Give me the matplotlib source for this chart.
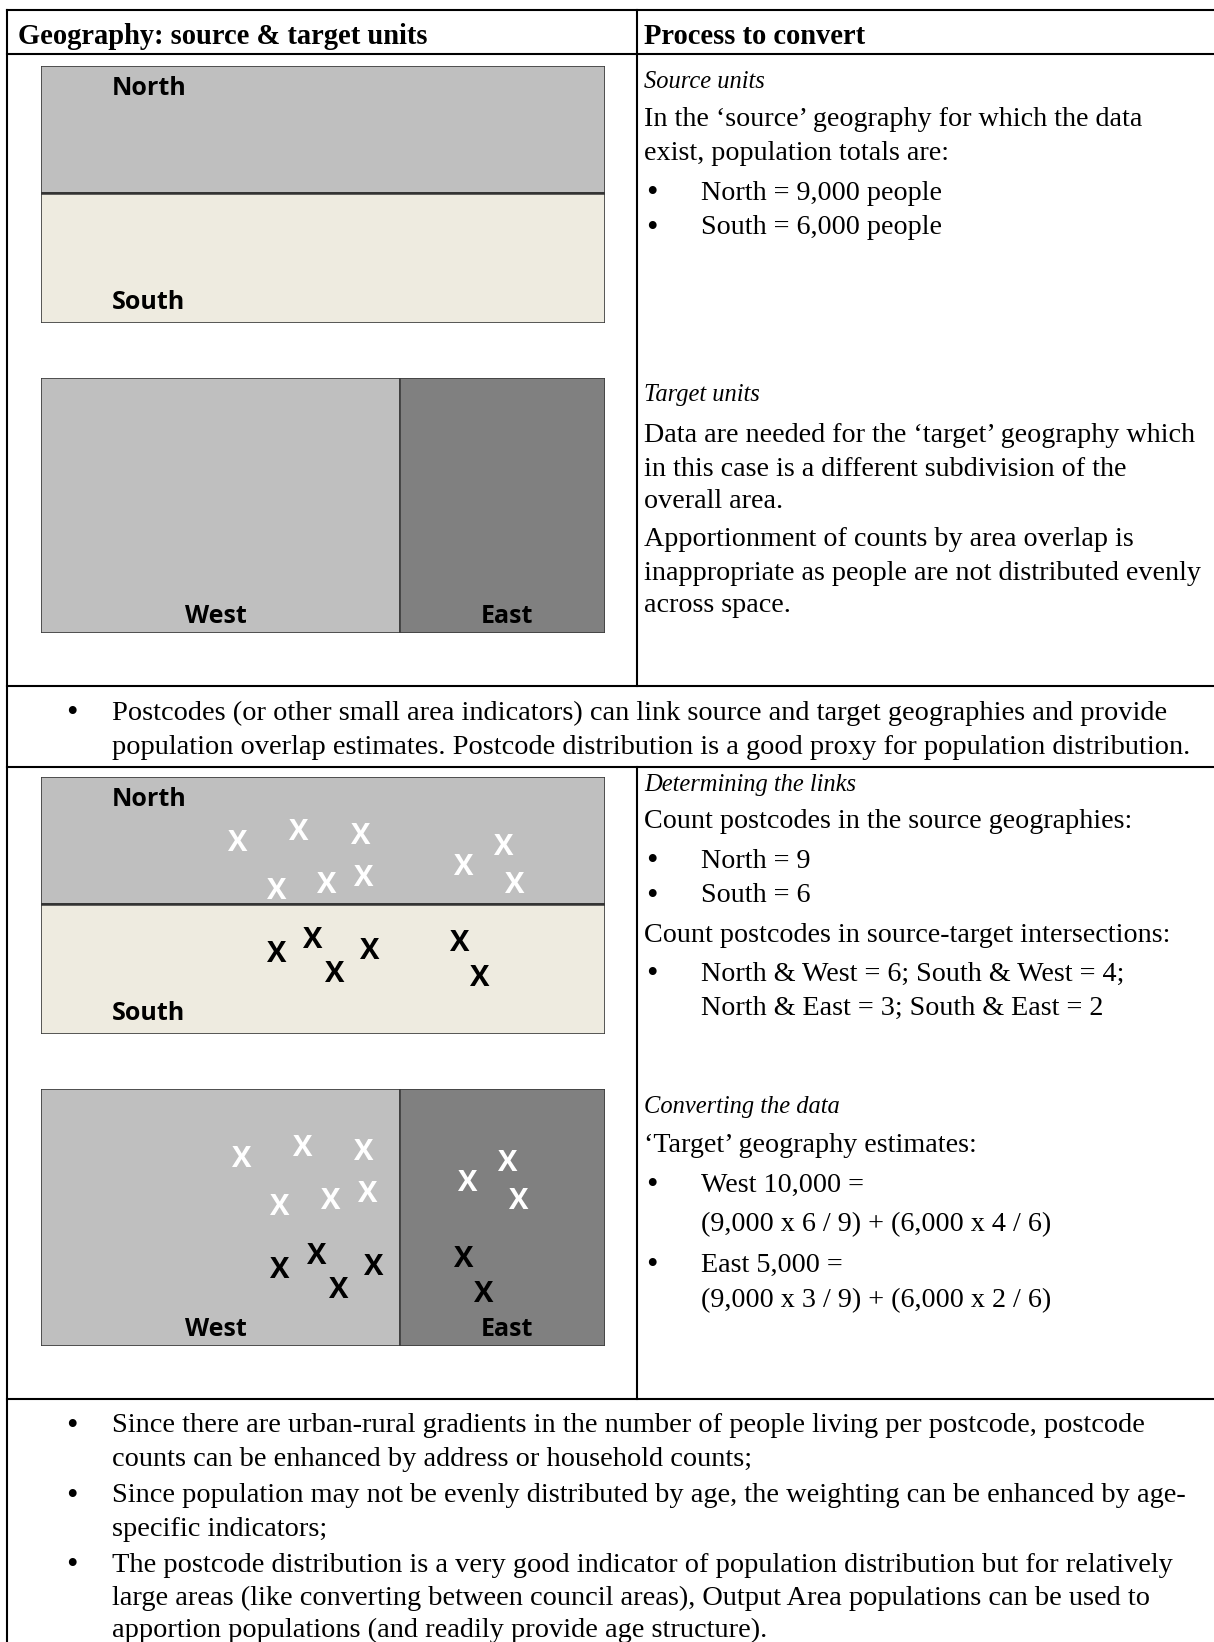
import matplotlib
matplotlib.use("Agg")
import matplotlib.pyplot as plt
from matplotlib.patches import Rectangle

# ---------------- data ----------------
source_units = ["North", "South"]
source_pop = [9000, 6000]
target_units = ["West", "East"]
north_south_boundary = 0.494   # fraction of map height (from top)
west_east_boundary = 0.637     # fraction of map width (from left)

# postcode locations (fraction of map width / height from top)
north_pc_x = [0.349, 0.457, 0.566, 0.417, 0.507, 0.573, 0.750, 0.821, 0.840]
north_pc_y = [0.253, 0.210, 0.226, 0.440, 0.416, 0.389, 0.346, 0.268, 0.416]
south_pc_x = [0.417, 0.482, 0.582, 0.521, 0.743, 0.778]
south_pc_y = [0.685, 0.630, 0.673, 0.763, 0.642, 0.778]

header_labels = ["Geography: source & target units", "Process to convert"]

# ---------------- derived counts ----------------
n_north = len(north_pc_x)
n_south = len(south_pc_x)
nw = sum(1 for x in north_pc_x if x < west_east_boundary)
ne = n_north - nw
sw = sum(1 for x in south_pc_x if x < west_east_boundary)
se = n_south - sw
west_est = source_pop[0] * nw / n_north + source_pop[1] * sw / n_south
east_est = source_pop[0] * ne / n_north + source_pop[1] * se / n_south

# ---------------- figure ----------------
W, H = 1214, 1642
fig = plt.figure(figsize=(W / 100, H / 100), dpi=100)
ax = fig.add_axes([0, 0, 1, 1])
ax.set_xlim(0, W)
ax.set_ylim(H, 0)
ax.axis("off")
renderer = fig.canvas.get_renderer()

SERIF = "Liberation Serif"
SANS = "Open Sans"


def fit_size(s, target, **kw):
    t = fig.text(0, 0, s, fontsize=20, **kw)
    w = t.get_window_extent(renderer).width
    t.remove()
    return 20 * target / w


fs_body = fit_size("inappropriate as people are not distributed evenly", 556, family=SERIF)
fs_head = fit_size(header_labels[0], 410, family=SERIF, weight="bold")
fs_ital = fit_size("Determining the links", 213, family=SERIF, style="italic")
fs_wide = fit_size("Postcodes (or other small area indicators) can link source and target "
                   "geographies and provide", 1053, family=SERIF)

# ---------------- table lines ----------------
LW = 1.5
XL, XD, XR = 7, 637, W + 5
YT, YH, Y1, Y2, Y3 = 10, 54, 686, 767, 1399
for y in [YT, YH, Y1, Y2, Y3]:
    ax.plot([XL, XR], [y, y], color="black", lw=LW, solid_capstyle="projecting")
ax.plot([XL, XL], [YT, H + 5], color="black", lw=LW)
ax.plot([XD, XD], [YT, Y1], color="black", lw=LW)
ax.plot([XD, XD], [Y2, Y3], color="black", lw=LW)

# header
ax.text(18, 33, header_labels[0], family=SERIF, weight="bold", fontsize=fs_head,
        va="center_baseline", ha="left")
ax.text(644, 33, header_labels[1], family=SERIF, weight="bold", fontsize=fs_head,
        va="center_baseline", ha="left")


def line(x, y, s, size=None, style="normal"):
    ax.text(x, y, s, family=SERIF, fontsize=size or fs_body, style=style,
            va="center_baseline", ha="left")


def bullet(xb, xt, y, s, size=None):
    ax.text(xb, y, "\u2022", family=SERIF, fontsize=(size or fs_body) * 1.15,
            va="center_baseline", ha="left")
    line(xt, y, s, size)


XT, XB, XI = 644, 646, 701

# row 1 right column
line(XT, 79, "Source units", fs_ital, "italic")
line(XT, 117, "In the \u2018source\u2019 geography for which the data")
line(XT, 150, "exist, population totals are:")
bullet(XB, XI, 190, f"{source_units[0]} = {source_pop[0]:,} people")
bullet(XB, XI, 225, f"{source_units[1]} = {source_pop[1]:,} people")
line(XT, 393, "Target units", fs_ital, "italic")
line(XT, 432, "Data are needed for the \u2018target\u2019 geography which")
line(XT, 466, "in this case is a different subdivision of the")
line(XT, 498, "overall area.")
line(XT, 537, "Apportionment of counts by area overlap is")
line(XT, 570, "inappropriate as people are not distributed evenly")
line(XT, 603, "across space.")

# row 2
bullet(66, 112, 710, "Postcodes (or other small area indicators) can link source and target "
       "geographies and provide", fs_wide)
line(112, 745, "population overlap estimates. Postcode distribution is a good proxy for "
     "population distribution.", fs_wide)

# row 3 right column
line(XT, 783, "Determining the links", fs_ital, "italic")
line(XT, 818, "Count postcodes in the source geographies:")
bullet(XB, XI, 858, f"{source_units[0]} = {n_north}")
bullet(XB, XI, 893, f"{source_units[1]} = {n_south}")
line(XT, 933, "Count postcodes in source-target intersections:")
bullet(XB, XI, 971, f"North & West = {nw}; South & West = {sw};")
line(XI, 1005, f"North & East = {ne}; South & East = {se}")
line(XT, 1104, "Converting the data", fs_ital, "italic")
line(XT, 1143, "\u2018Target\u2019 geography estimates:")
bullet(XB, XI, 1182, f"West {west_est:,.0f} =")
line(XI, 1222, f"({source_pop[0]:,} x {nw} / {n_north}) + ({source_pop[1]:,} x {sw} / {n_south})")
bullet(XB, XI, 1262, f"East {east_est:,.0f} =")
line(XI, 1298, f"({source_pop[0]:,} x {ne} / {n_north}) + ({source_pop[1]:,} x {se} / {n_south})")

# row 4
bottom_lines = [
    (True, "Since there are urban-rural gradients in the number of people living per postcode, postcode"),
    (False, "counts can be enhanced by address or household counts;"),
    (True, "Since population may not be evenly distributed by age, the weighting can be enhanced by age-"),
    (False, "specific indicators;"),
    (True, "The postcode distribution is a very good indicator of population distribution but for relatively"),
    (False, "large areas (like converting between council areas), Output Area populations can be used to"),
    (False, "apportion populations (and readily provide age structure)."),
]
bottom_y = [1423, 1456, 1493, 1526, 1562, 1595, 1627]
for (is_b, s), y in zip(bottom_lines, bottom_y):
    if is_b:
        bullet(66, 112, y, s, fs_wide)
    else:
        line(112, y, s, fs_wide)

# ---------------- maps ----------------
MAP_L, MAP_W = 41, 564
EDGE = "#3c3c3c"
FS_LABEL = 18
FS_X = 21


def map_axes(top, bottom):
    return fig.add_axes([MAP_L / W, 1 - bottom / H, MAP_W / W, (bottom - top) / H])


def source_map(top, bottom, points):
    m = map_axes(top, bottom)
    m.set_xlim(0, 1)
    m.set_ylim(1, 0)
    m.axis("off")
    nb = north_south_boundary
    m.add_patch(Rectangle((0, 0), 1, nb, facecolor="#bfbfbf", edgecolor=EDGE, lw=1.2))
    m.add_patch(Rectangle((0, nb), 1, 1 - nb, facecolor="#eeebe0", edgecolor=EDGE, lw=1.2))
    m.plot([0, 1], [nb, nb], color="#333333", lw=1.8)
    m.text(0.126, 0.088, source_units[0], family=SANS, weight="bold", fontsize=FS_LABEL,
           va="center", ha="left")
    m.text(0.126, 0.922, source_units[1], family=SANS, weight="bold", fontsize=FS_LABEL,
           va="center", ha="left")
    if points:
        draw_points(m, 0, 0.006)


def draw_points(m, dx, dy):
    for x, y in zip(north_pc_x, north_pc_y):
        m.text(x + dx, y + dy, "X", family=SANS, weight="bold", fontsize=FS_X,
               color="white", ha="center", va="center")
    for x, y in zip(south_pc_x, south_pc_y):
        m.text(x + dx, y + dy, "X", family=SANS, weight="bold", fontsize=FS_X,
               color="black", ha="center", va="center")


def target_map(top, bottom, points):
    m = map_axes(top, bottom)
    m.set_xlim(0, 1)
    m.set_ylim(1, 0)
    m.axis("off")
    wb = west_east_boundary
    m.add_patch(Rectangle((0, 0), wb, 1, facecolor="#bfbfbf", edgecolor=EDGE, lw=1.2))
    m.add_patch(Rectangle((wb, 0), 1 - wb, 1, facecolor="#808080", edgecolor=EDGE, lw=1.2))
    m.text(0.31, 0.935, target_units[0], family=SANS, weight="bold", fontsize=FS_LABEL,
           va="center", ha="center")
    m.text(0.826, 0.935, target_units[1], family=SANS, weight="bold", fontsize=FS_LABEL,
           va="center", ha="center")
    if points:
        draw_points(m, 0.007, 0.021)


source_map(66, 323, False)
target_map(378, 633, False)
source_map(777, 1034, True)
target_map(1089, 1346, True)

fig.savefig("out.png", dpi=100, facecolor="white")
